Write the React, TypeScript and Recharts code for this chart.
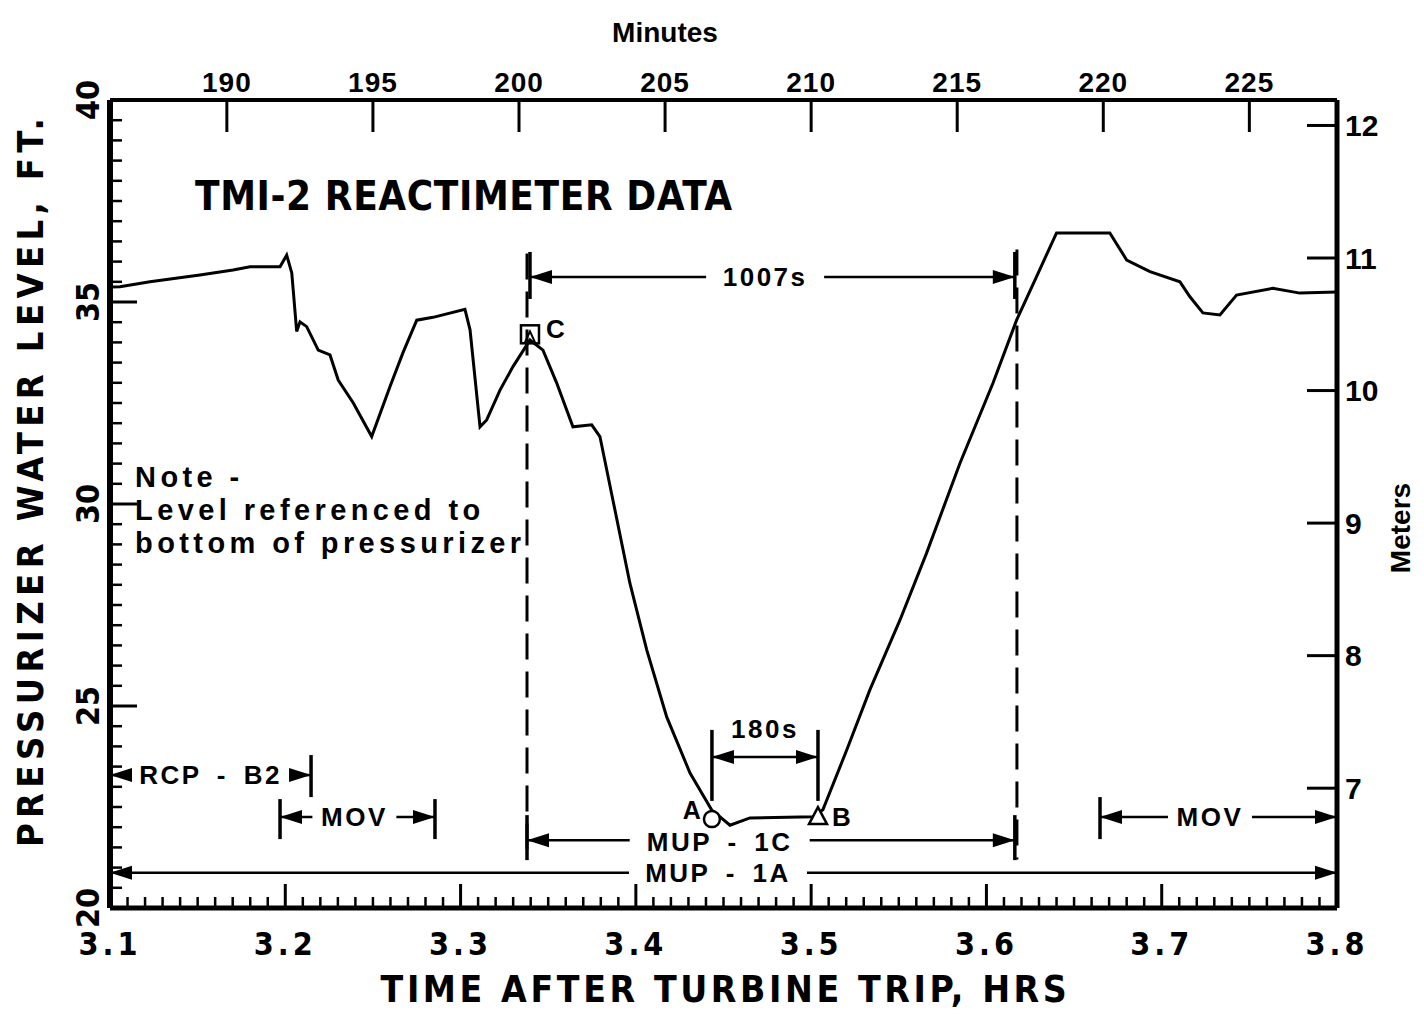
import React from "react";
import { LineChart, Line, XAxis, YAxis, ReferenceLine, ReferenceDot } from "recharts";

// pressurizer level trace
const hours = [
  3.1, 3.1057, 3.1228, 3.1513, 3.1702, 3.1799, 3.197, 3.2008, 3.2037, 3.2065, 3.2084, 3.2122,
  3.2188, 3.2255, 3.2302, 3.2388, 3.2493, 3.2597, 3.2671, 3.275, 3.2843, 3.3025, 3.3054, 3.3111,
  3.3149, 3.3225, 3.3299, 3.3396, 3.347, 3.3548, 3.3641, 3.3748, 3.3795, 3.3869, 3.3966, 3.4062,
  3.4176, 3.4309, 3.4432, 3.4537, 3.4651, 3.501, 3.5067, 3.5203, 3.5335, 3.5507, 3.5659, 3.5849,
  3.6037, 3.6172, 3.6286, 3.64, 3.6704, 3.68, 3.6933, 3.7104, 3.7161, 3.7235, 3.7332, 3.7427,
  3.7634, 3.7788, 3.8,
];
const levelFt = [
  35.37, 35.38, 35.5, 35.67, 35.79, 35.87, 35.87, 36.16, 35.72, 34.27, 34.51, 34.39,
  33.81, 33.69, 33.07, 32.5, 31.67, 32.9, 33.74, 34.55, 34.62, 34.82, 34.31, 31.91,
  32.08, 32.82, 33.4, 34.06, 33.81, 33.0, 31.91, 31.96, 31.67, 30.1, 28.04, 26.39,
  24.73, 23.34, 22.43, 22.05, 22.23, 22.26, 22.43, 23.91, 25.4, 27.13, 28.79, 31.01,
  32.99, 34.55, 35.63, 36.71, 36.71, 36.04, 35.75, 35.5, 35.13, 34.73, 34.68, 35.17,
  35.34, 35.22, 35.25,
];

const hourLabels = [3.1, 3.2, 3.3, 3.4, 3.5, 3.6, 3.7, 3.8];
const minuteTicks = [190, 195, 200, 205, 210, 215, 220, 225];
const ftLabels = [20, 25, 30, 35, 40];
const meterTicks = [7, 8, 9, 10, 11, 12];
const FT_PER_M = 3.2808;

// event markers (hrs / ft)
const tC = 3.3379; // start of 1007s window
const tEnd = 3.6174;
const pointC = { h: 3.3396, ft: 34.2 };
const pointA = { h: 3.4434, ft: 22.2 };
const pointB = { h: 3.5039, ft: 22.25 };

const data = hours.map((h, i) => ({ h, ft: levelFt[i], min: h * 60, m: levelFt[i] / FT_PER_M }));

// minor ticks
const hourTicks: number[] = [];
for (let i = 310; i <= 380; i++) hourTicks.push(i / 100);
const ftTicks: number[] = [];
for (let i = 40; i <= 80; i++) ftTicks.push(i / 2);

const BLOCK = "'DejaVu Sans Condensed', 'Liberation Sans Narrow', sans-serif";
const HELV = "'Liberation Sans', Arial, sans-serif";

const BottomTick = (p: any) => {
  const v = p.payload.value;
  const major = hourLabels.some((l) => Math.abs(l - v) < 1e-6);
  const ay = p.y - 47;
  return (
    <g>
      <line x1={p.x} x2={p.x} y1={ay} y2={ay - (major ? 24 : 11)} stroke="#000" strokeWidth={major ? 3 : 2.5} />
      {major && (
        <text x={p.x} y={p.y} textAnchor="middle" fontFamily={BLOCK} fontWeight="bold" fontSize={32} letterSpacing={4} fill="#000">
          {v.toFixed(1)}
        </text>
      )}
    </g>
  );
};

const LeftTick = (p: any) => {
  const v = p.payload.value;
  const major = ftLabels.includes(v);
  const ax = p.x + 22;
  return (
    <g>
      <line x1={ax} x2={ax + (major ? 27 : 12)} y1={p.y} y2={p.y} stroke="#000" strokeWidth={major ? 3 : 2.5} />
      {major && (
        <text x={p.x} y={p.y} transform={`rotate(-90 ${p.x} ${p.y})`} textAnchor="middle" dominantBaseline="central"
          fontFamily={BLOCK} fontWeight="bold" fontSize={32} fill="#000">
          {v}
        </text>
      )}
    </g>
  );
};

const TopTick = (p: any) => {
  const ay = p.y + 8;
  return (
    <g>
      <line x1={p.x} x2={p.x} y1={ay} y2={ay + 32} stroke="#000" strokeWidth={3} />
      <text x={p.x} y={p.y} textAnchor="middle" fontFamily={HELV} fontWeight="bold" fontSize={28} letterSpacing={1} fill="#000">
        {p.payload.value}
      </text>
    </g>
  );
};

const RightTick = (p: any) => {
  const ax = p.x - 8;
  return (
    <g>
      <line x1={ax} x2={ax - 30} y1={p.y} y2={p.y} stroke="#000" strokeWidth={3} />
      <text x={p.x} y={p.y} dominantBaseline="central" fontFamily={HELV} fontWeight="bold" fontSize={30} fill="#000">
        {p.payload.value}
      </text>
    </g>
  );
};

type ArrowSpec = {
  label?: string;
  t?: number;
  dy?: number;
  gap?: number;
  headL?: boolean;
  headR?: boolean;
  barL?: [number, number];
  barR?: [number, number];
};

const arrowShape = (s: ArrowSpec) => (p: any) => {
  const { x1, y1, x2 } = p;
  const y = y1;
  const lx = x1 + (x2 - x1) * (s.t ?? 0.5);
  const g = s.gap ?? 0;
  const head = (tip: number, dir: number) =>
    `${tip},${y} ${tip + dir * 22},${y - 7} ${tip + dir * 22},${y + 7}`;
  return (
    <g>
      {g > 0 ? (
        <>
          <line x1={x1} x2={lx - g / 2} y1={y} y2={y} stroke="#000" strokeWidth={2.5} />
          <line x1={lx + g / 2} x2={x2} y1={y} y2={y} stroke="#000" strokeWidth={2.5} />
        </>
      ) : (
        <line x1={x1} x2={x2} y1={y} y2={y} stroke="#000" strokeWidth={2.5} />
      )}
      {s.headL && <polygon points={head(x1, 1)} fill="#000" />}
      {s.headR && <polygon points={head(x2, -1)} fill="#000" />}
      {s.barL && <line x1={x1} x2={x1} y1={y - s.barL[0]} y2={y + s.barL[1]} stroke="#000" strokeWidth={3.5} />}
      {s.barR && <line x1={x2} x2={x2} y1={y - s.barR[0]} y2={y + s.barR[1]} stroke="#000" strokeWidth={3.5} />}
      {s.label && (
        <text x={lx} y={y + (s.dy ?? 9)} textAnchor="middle" fontFamily={HELV} fontWeight="bold" fontSize={26}
          letterSpacing={2.5} wordSpacing={6} fill="#000">
          {s.label}
        </text>
      )}
    </g>
  );
};

const textShape = (lines: string[], opts: { size: number; family: string; spacing: number; lh?: number }) => (p: any) => (
  <text x={p.cx} y={p.cy} fontFamily={opts.family} fontWeight="bold" fontSize={opts.size} letterSpacing={opts.spacing} fill="#000">
    {lines.map((l, i) => (
      <tspan key={i} x={p.cx} dy={i === 0 ? 0 : opts.lh}>
        {l}
      </tspan>
    ))}
  </text>
);

const markC = (p: any) => (
  <g>
    <rect x={p.cx - 9} y={p.cy - 9} width={18} height={18} fill="none" stroke="#000" strokeWidth={2.5} />
    <polygon points={`${p.cx},${p.cy - 3} ${p.cx - 5},${p.cy + 8} ${p.cx + 5},${p.cy + 8}`} fill="none" stroke="#000" strokeWidth={2} />
    <text x={p.cx + 16} y={p.cy + 4} fontFamily={HELV} fontWeight="bold" fontSize={26} fill="#000">C</text>
  </g>
);
const markA = (p: any) => (
  <g>
    <circle cx={p.cx} cy={p.cy} r={8} fill="#fff" stroke="#000" strokeWidth={2.5} />
    <text x={p.cx - 11} y={p.cy} textAnchor="end" fontFamily={HELV} fontWeight="bold" fontSize={25} fill="#000">A</text>
  </g>
);
const markB = (p: any) => (
  <g>
    <polygon points={`${p.cx},${p.cy - 10} ${p.cx - 9},${p.cy + 7} ${p.cx + 9},${p.cy + 7}`} fill="#fff" stroke="#000" strokeWidth={2.5} />
    <text x={p.cx + 14} y={p.cy + 9} fontFamily={HELV} fontWeight="bold" fontSize={26} fill="#000">B</text>
  </g>
);

const App = () => {
  return (
    <div style={{ width: 1408, height: 1002, background: "#fff" }}>
      <LineChart width={1408} height={1002} data={data} margin={{ top: 0, right: 0, bottom: 0, left: 0 }}>
        <XAxis xAxisId="h" dataKey="h" type="number" domain={[3.1, 3.8]} ticks={hourTicks} interval={0}
          allowDataOverflow height={102} tickSize={0} tickMargin={47}
          axisLine={{ stroke: "#000", strokeWidth: 5 }} tick={BottomTick}
          label={{
            content: (p: any) => (
              <text x={p.viewBox.x + p.viewBox.width / 2 + 2} y={p.viewBox.y + 94} textAnchor="middle"
                fontFamily={BLOCK} fontWeight="bold" fontSize={37} letterSpacing={3.6} fill="#000">
                TIME AFTER TURBINE TRIP, HRS
              </text>
            ),
          }}
        />
        <XAxis xAxisId="min" dataKey="min" orientation="top" type="number" domain={[186, 228]} ticks={minuteTicks}
          interval={0} allowDataOverflow height={92} tickSize={0} tickMargin={8}
          axisLine={{ stroke: "#000", strokeWidth: 4 }} tick={TopTick}
          label={{
            content: (p: any) => (
              <text x={p.viewBox.x + 555} y={p.viewBox.y + 34} textAnchor="middle" fontFamily={HELV}
                fontWeight="bold" fontSize={28} fill="#000">
                Minutes
              </text>
            ),
          }}
        />
        <YAxis yAxisId="ft" type="number" domain={[20, 40]} ticks={ftTicks} interval={0} allowDataOverflow
          width={102} tickSize={0} tickMargin={22} axisLine={{ stroke: "#000", strokeWidth: 6 }} tick={LeftTick}
          label={{
            content: (p: any) => {
              const cx = 22;
              const cy = p.viewBox.y + p.viewBox.height / 2 - 24;
              return (
                <text x={cx} y={cy} transform={`rotate(-90 ${cx} ${cy})`} textAnchor="middle" dominantBaseline="central"
                  fontFamily={BLOCK} fontWeight="bold" fontSize={36} letterSpacing={5.4} fill="#000">
                  PRESSURIZER WATER LEVEL, FT.
                </text>
              );
            },
          }}
        />
        <YAxis yAxisId="m" orientation="right" type="number" domain={[20 / FT_PER_M, 40 / FT_PER_M]}
          ticks={meterTicks} interval={0} allowDataOverflow width={79} tickSize={0} tickMargin={8}
          axisLine={{ stroke: "#000", strokeWidth: 5 }} tick={RightTick}
          label={{
            content: (p: any) => {
              const cx = p.viewBox.x + 63;
              const cy = p.viewBox.y + 428;
              return (
                <text x={cx} y={cy} transform={`rotate(-90 ${cx} ${cy})`} textAnchor="middle" dominantBaseline="central"
                  fontFamily={HELV} fontWeight="bold" fontSize={28} fill="#000">
                  Meters
                </text>
              );
            },
          }}
        />

        <Line xAxisId="min" yAxisId="m" dataKey="m" stroke="none" dot={false} activeDot={false} isAnimationActive={false} />
        <Line xAxisId="h" yAxisId="ft" dataKey="ft" type="linear" stroke="#000" strokeWidth={3} dot={false}
          activeDot={false} isAnimationActive={false} />

        {/* dashed window lines */}
        <ReferenceLine xAxisId="h" yAxisId="ft" segment={[{ x: tC, y: 36.2 }, { x: tC, y: 21.2 }]}
          stroke="#000" strokeWidth={3} strokeDasharray="26 12" />
        <ReferenceLine xAxisId="h" yAxisId="ft" segment={[{ x: tEnd, y: 36.3 }, { x: tEnd, y: 21.2 }]}
          stroke="#000" strokeWidth={3} strokeDasharray="26 12" />

        <ReferenceLine xAxisId="h" yAxisId="ft" segment={[{ x: 3.3396, y: 35.62 }, { x: 3.6162, y: 35.62 }]}
          shape={arrowShape({ label: "1007s", t: 0.485, gap: 118, headL: true, headR: true, barL: [25, 22], barR: [25, 22] })} />
        <ReferenceLine xAxisId="h" yAxisId="ft" segment={[{ x: pointA.h, y: 23.74 }, { x: pointB.h, y: 23.74 }]}
          shape={arrowShape({ label: "180s", t: 0.5, dy: -19, headL: true, headR: true, barL: [27, 44], barR: [27, 44] })} />
        <ReferenceLine xAxisId="h" yAxisId="ft" segment={[{ x: tC, y: 21.68 }, { x: 3.6162, y: 21.68 }]}
          shape={arrowShape({ label: "MUP - 1C", t: 0.395, dy: 11, gap: 180, headL: true, headR: true, barL: [25, 20], barR: [25, 20] })} />
        <ReferenceLine xAxisId="h" yAxisId="ft" segment={[{ x: 3.1, y: 20.87 }, { x: 3.8, y: 20.87 }]}
          shape={arrowShape({ label: "MUP - 1A", t: 0.4955, gap: 178, headL: true, headR: true })} />
        <ReferenceLine xAxisId="h" yAxisId="ft" segment={[{ x: 3.1, y: 23.29 }, { x: 3.2147, y: 23.29 }]}
          shape={arrowShape({ label: "RCP - B2", t: 0.5, gap: 160, headL: true, headR: true, barR: [20, 22] })} />
        <ReferenceLine xAxisId="h" yAxisId="ft" segment={[{ x: 3.197, y: 22.25 }, { x: 3.2854, y: 22.25 }]}
          shape={arrowShape({ label: "MOV", t: 0.48, gap: 84, headL: true, headR: true, barL: [18, 22], barR: [18, 22] })} />
        <ReferenceLine xAxisId="h" yAxisId="ft" segment={[{ x: 3.6648, y: 22.25 }, { x: 3.8, y: 22.25 }]}
          shape={arrowShape({ label: "MOV", t: 0.464, gap: 84, headL: true, headR: true, barL: [20, 22] })} />

        <ReferenceDot xAxisId="h" yAxisId="ft" x={pointC.h} y={pointC.ft} shape={markC} />
        <ReferenceDot xAxisId="h" yAxisId="ft" x={pointA.h} y={pointA.ft} shape={markA} />
        <ReferenceDot xAxisId="h" yAxisId="ft" x={pointB.h} y={pointB.ft} shape={markB} />

        <ReferenceDot xAxisId="h" yAxisId="ft" x={3.1485} y={37.28}
          shape={textShape(["TMI-2 REACTIMETER DATA"], { size: 40, family: BLOCK, spacing: 0.6 })} />
        <ReferenceDot xAxisId="h" yAxisId="ft" x={3.1143} y={30.42}
          shape={textShape(["Note -", "Level referenced to", "bottom of pressurizer"], { size: 29, family: HELV, spacing: 4.4, lh: 33 })} />
      </LineChart>
    </div>
  );
};

export default App;
